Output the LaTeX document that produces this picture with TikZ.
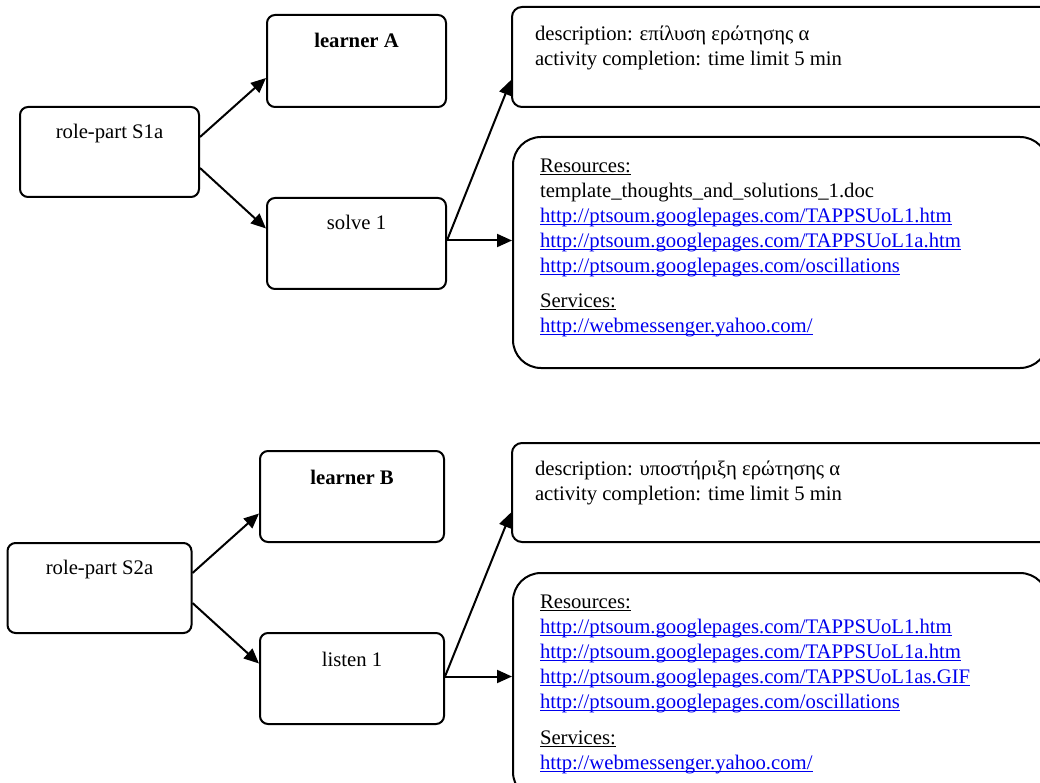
\documentclass[tikz,border=0pt]{standalone}
\usepackage{fontspec}
\setmainfont{Liberation Serif}
\usetikzlibrary{arrows.meta}

\definecolor{linkblue}{RGB}{0,0,238}
\newsavebox{\ulbox}
\newcommand{\ulined}[1]{\sbox{\ulbox}{#1}\rlap{\rule[-2.5pt]{\wd\ulbox}{1.2pt}}\usebox{\ulbox}}
\newcommand{\weblink}[1]{\textcolor{linkblue}{\ulined{#1}}}

\begin{document}
\begin{tikzpicture}
  [
  x=1pt, y=-1pt,
  font=\fontsize{20.7}{25}\selectfont,
  line width=2pt,
  >={Triangle[length=15pt,width=13pt]},
  partbox/.style={rectangle, rounded corners=8pt, draw=black, fill=white, inner sep=0pt},
  infobox/.style={rectangle, rounded corners=10pt, draw=black, fill=white, inner sep=0pt},
  resbox/.style={rectangle, rounded corners=28pt, draw=black, fill=white, inner sep=0pt},
  title/.style={anchor=base, inner sep=0pt},
  info/.style={anchor=north west, align=left, inner sep=0pt},
  ]

\useasboundingbox (0,0) rectangle (1040,783);
\fill[white] (0,0) rectangle (1040,783);
\clip (0,0) rectangle (1040,783);

% upper part: learner A
\node[partbox, minimum width=179pt, minimum height=90pt] (rpA) at (109.5,152) {};
\node[partbox, minimum width=179pt, minimum height=92pt] (lrnA) at (356.5,61) {};
\node[partbox, minimum width=179pt, minimum height=91pt] (solve) at (356.5,243.5) {};
\node[infobox, minimum width=548pt, minimum height=100pt] (descA) at (786,57) {};
\node[resbox, minimum width=535pt, minimum height=231pt] (resA) at (780.5,252.5) {};

\node[title] (rpAtxt) at ([yshift=-33pt]rpA.north) {role-part S1a};
\node[title] (lrnAtxt) at ([yshift=-34pt]lrnA.north) {\textbf{learner A}};
\node[title] (solvetxt) at ([yshift=-33pt]solve.north) {solve 1};
\node[info] (descAtxt) at ([xshift=23pt,yshift=-19pt]descA.north west)
  {description: επίλυση ερώτησης α\\activity completion: time limit 5 min};
\node[info] (resAtxt) at ([xshift=27pt,yshift=-22pt]resA.north west)
  {\ulined{Resources:}\\
   template\_thoughts\_and\_solutions\_1.doc\\
   \weblink{http://ptsoum.googlepages.com/TAPPSUoL1.htm}\\
   \weblink{http://ptsoum.googlepages.com/TAPPSUoL1a.htm}\\
   \weblink{http://ptsoum.googlepages.com/oscillations}\\[10pt]
   \ulined{Services:}\\
   \weblink{http://webmessenger.yahoo.com/}};

\coordinate (solveout) at ([yshift=3pt]solve.east);
\draw[->] ([yshift=15pt]rpA.east) -- ([yshift=-17pt]lrnA.west);
\draw[->] ([yshift=-16pt]rpA.east) -- ([yshift=15pt]solve.west);
\draw[->] (solveout) -- ([yshift=-23pt]descA.west);
\draw[->] (solveout) -- (solveout -| resA.west);

% lower part: learner B
\node[partbox, minimum width=184pt, minimum height=90pt] (rpB) at (99.5,588) {};
\node[partbox, minimum width=184pt, minimum height=91pt] (lrnB) at (352,496.5) {};
\node[partbox, minimum width=184pt, minimum height=91pt] (listen) at (352,678.5) {};
\node[infobox, minimum width=548pt, minimum height=99pt] (descB) at (786,492.5) {};
\node[resbox, minimum width=535pt, minimum height=227pt] (resB) at (780.5,686.5) {};

\node[title] (rpBtxt) at ([yshift=-32pt]rpB.north) {role-part S2a};
\node[title] (lrnBtxt) at ([yshift=-34pt]lrnB.north) {\textbf{learner B}};
\node[title] (listentxt) at ([yshift=-34pt]listen.north) {listen 1};
\node[info] (descBtxt) at ([xshift=23pt,yshift=-18pt]descB.north west)
  {description: υποστήριξη ερώτησης α\\activity completion: time limit 5 min};
\node[info] (resBtxt) at ([xshift=27pt,yshift=-22pt]resB.north west)
  {\ulined{Resources:}\\
   \weblink{http://ptsoum.googlepages.com/TAPPSUoL1.htm}\\
   \weblink{http://ptsoum.googlepages.com/TAPPSUoL1a.htm}\\
   \weblink{http://ptsoum.googlepages.com/TAPPSUoL1as.GIF}\\
   \weblink{http://ptsoum.googlepages.com/oscillations}\\[11pt]
   \ulined{Services:}\\
   \weblink{http://webmessenger.yahoo.com/}};

\coordinate (listenout) at ([yshift=2pt]listen.east);
\draw[->] ([yshift=15pt]rpB.east) -- ([yshift=-17pt]lrnB.west);
\draw[->] ([yshift=-15pt]rpB.east) -- ([yshift=15pt]listen.west);
\draw[->] (listenout) -- ([yshift=-20pt]descB.west);
\draw[->] (listenout) -- (listenout -| resB.west);
\end{tikzpicture}
\end{document}
